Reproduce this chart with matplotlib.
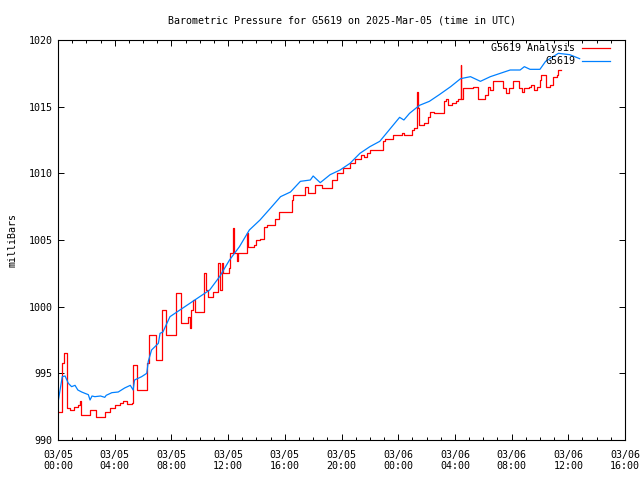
import matplotlib
matplotlib.use("Agg")
import matplotlib.pyplot as plt
import numpy as np

# hours since 03/05 00:00 UTC
analysis_hours = [0.0, 0.25, 0.45, 0.6, 0.85, 1.1, 1.4, 1.55, 1.62, 2.25, 2.7, 3.3, 3.7, 4.0, 4.4,
                  4.6, 4.85, 5.2, 5.32, 5.6, 6.28, 6.4, 6.9, 7.35, 7.6, 8.3, 8.65, 9.2, 9.3, 9.4,
                  9.55, 9.66, 10.3, 10.45, 10.6, 10.9, 11.3, 11.45, 11.55, 11.65, 12.07, 12.15,
                  12.35, 12.45, 12.6, 12.7, 13.35, 13.42, 13.8, 14.0, 14.25, 14.5, 14.75, 15.3,
                  15.6, 16.5, 16.6, 17.4, 17.65, 18.1, 18.6, 19.3, 19.7, 20.1, 20.6, 20.95, 21.4,
                  21.6, 21.8, 22.0, 22.95, 23.1, 23.65, 24.25, 24.4, 24.95, 25.1, 25.33, 25.38,
                  25.45, 25.8, 26.1, 26.25, 26.5, 27.2, 27.4, 27.5, 27.8, 28.1, 28.25, 28.4, 28.45,
                  28.6, 29.3, 29.6, 30.1, 30.35, 30.5, 30.7, 31.4, 31.6, 31.8, 32.1, 32.5, 32.7,
                  32.9, 33.2, 33.4, 33.55, 33.8, 34.0, 34.1, 34.45, 34.7, 34.95, 35.2, 35.3, 35.45]
analysis_mb = [992.1, 995.75, 996.5, 992.4, 992.25, 992.5, 992.6, 992.9, 991.9, 992.25, 991.75,
               992.1, 992.4, 992.6, 992.75, 992.95, 992.7, 992.75, 995.6, 993.75, 995.75, 997.9,
               996.0, 999.75, 997.9, 1001.0, 998.75, 999.25, 998.4, 999.75, 1000.5, 999.6, 1002.5,
               1001.25, 1000.75, 1001.1, 1003.25, 1001.25, 1003.25, 1002.5, 1002.9, 1004.0,
               1005.9, 1004.0, 1003.4, 1004.0, 1005.5, 1004.5, 1004.6, 1005.0, 1005.1, 1006.0,
               1006.1, 1006.6, 1007.1, 1008.0, 1008.4, 1009.0, 1008.5, 1009.1, 1008.9, 1009.5,
               1010.0, 1010.4, 1010.75, 1011.05, 1011.4, 1011.25, 1011.5, 1011.75, 1012.4, 1012.6,
               1012.9, 1013.0, 1012.9, 1013.25, 1013.4, 1016.1, 1014.9, 1013.6, 1013.75, 1014.25,
               1014.6, 1014.5, 1015.4, 1015.6, 1015.1, 1015.25, 1015.4, 1015.6, 1018.1, 1015.6,
               1016.4, 1016.5, 1015.6, 1015.9, 1016.5, 1016.25, 1016.9, 1016.4, 1016.0, 1016.4,
               1016.9, 1016.4, 1016.1, 1016.4, 1016.5, 1016.6, 1016.25, 1016.5, 1017.0, 1017.4,
               1016.5, 1016.6, 1017.25, 1017.4, 1017.75, 1017.75]

station_hours = [0.0, 0.3, 0.5, 0.73, 0.96, 1.2, 1.4, 1.67, 1.9, 2.14, 2.26, 2.4, 2.6, 3.0, 3.3,
                 3.4, 3.8, 4.25, 4.7, 5.1, 5.3, 5.4, 5.9, 6.26, 6.37, 6.6, 7.08, 7.2, 7.4, 7.9,
                 8.6, 9.3, 10.0, 10.7, 11.4, 12.1, 12.8, 13.5, 14.25, 15.0, 15.7, 16.4, 17.1,
                 17.8, 18.0, 18.5, 19.2, 19.9, 20.6, 21.3, 22.0, 22.7, 23.4, 24.1, 24.4, 24.8,
                 25.5, 26.2, 26.9, 27.7, 28.4, 29.1, 29.8, 30.5, 31.2, 31.9, 32.6, 32.9, 33.3,
                 34.0, 34.4, 35.3, 36.1, 36.8]
station_mb = [992.8, 994.75, 994.8, 994.25, 994.0, 994.1, 993.75, 993.6, 993.5, 993.4, 993.0,
              993.3, 993.25, 993.3, 993.2, 993.35, 993.55, 993.6, 993.9, 994.1, 993.75, 994.5,
              994.75, 995.0, 995.9, 996.75, 997.25, 998.0, 998.1, 999.25, 999.75, 1000.25,
              1000.75, 1001.25, 1002.25, 1003.5, 1004.5, 1005.75, 1006.5, 1007.4, 1008.25,
              1008.6, 1009.4, 1009.5, 1009.8, 1009.3, 1009.9, 1010.25, 1010.75, 1011.5, 1012.0,
              1012.4, 1013.3, 1014.2, 1014.0, 1014.5, 1015.1, 1015.4, 1015.9, 1016.5, 1017.1,
              1017.25, 1016.9, 1017.25, 1017.5, 1017.75, 1017.75, 1018.0, 1017.8, 1017.8,
              1018.4, 1019.0, 1018.9, 1018.6]

tick_hours = [0, 4, 8, 12, 16, 20, 24, 28, 32, 36, 40]
tick_labels = ["03/05\n00:00", "03/05\n04:00", "03/05\n08:00", "03/05\n12:00", "03/05\n16:00",
               "03/05\n20:00", "03/06\n00:00", "03/06\n04:00", "03/06\n08:00", "03/06\n12:00",
               "03/06\n16:00"]

plt.rcParams['font.family'] = 'DejaVu Sans Mono'
plt.rcParams['font.size'] = 7.2

fig = plt.figure(figsize=(6.4, 4.8), dpi=100)
ax = fig.add_axes([58 / 640, 40 / 480, 567 / 640, 400 / 480])

ax.plot(analysis_hours, analysis_mb, color='#ff0000', lw=0.9, drawstyle='steps-post',
        label='G5619 Analysis')
ax.plot(station_hours, station_mb, color='#0080ff', lw=0.9, label='G5619')

ax.set_xlim(0, 40)
ax.set_ylim(990, 1020)
ax.set_xticks(tick_hours)
ax.set_xticklabels(tick_labels, linespacing=1.15)
ax.set_xticks(np.arange(0, 41, 1), minor=True)
ax.set_yticks(np.arange(990, 1021, 5))
ax.tick_params(direction='in', top=True, right=True, length=4.5, width=0.7)
ax.tick_params(axis='x', pad=7)
ax.tick_params(axis='y', pad=4)
ax.tick_params(which='minor', direction='in', top=True, length=2.5, width=0.7)
for s in ax.spines.values():
    s.set_linewidth(0.8)

ax.set_ylabel('milliBars', labelpad=8)
ax.set_title('Barometric Pressure for G5619 on 2025-Mar-05 (time in UTC)', fontsize=7.2, pad=12)

ax.legend(loc='upper right', frameon=False, markerfirst=False, handlelength=2.8,
          borderpad=0, borderaxespad=0, labelspacing=0.35, handletextpad=0.7,
          bbox_to_anchor=(610 / 640, 1 - 43 / 480), bbox_transform=fig.transFigure)

fig.savefig('out.png', dpi=100)
